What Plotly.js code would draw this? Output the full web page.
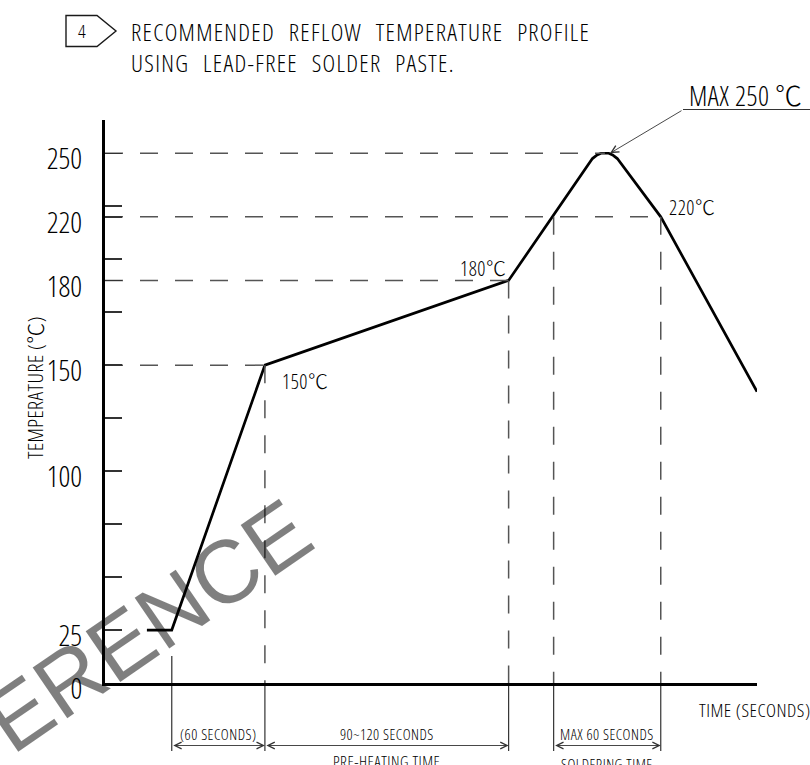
<!DOCTYPE html>
<html>
<head>
<meta charset="utf-8">
<script src="https://cdn.plot.ly/plotly-3.0.1.min.js"></script>
<style>
html,body{margin:0;padding:0;background:#fff;}
#chart{width:810px;height:765px;}
svg text{font-stretch:75%;letter-spacing:0.5px;}
.ytick text{letter-spacing:0;}
</style>
</head>
<body>
<div id="chart"></div>
<script>
// ---- data (time in s, temperature in drawing-axis units) ----
const profileTime = [27, 43, 103, 260, 314, 317, 319.5, 324.5, 327, 330, 358, 420];
const profileTemp = [25, 25, 150, 190, 247.5, 249.2, 250, 250, 249.2, 247.5, 220, 137.5];

const yTickVals = [0, 25, 50, 75, 100, 125, 150, 175, 190, 200, 220, 225, 250];
const yTickText = ['0', '25', '', '', '100', '', '150', '', '180', '', '220', '', '250'];

// horizontal reference levels and where they end
const refTemps = [150, 190, 220, 250];
const refEndTimes = [103, 260, 358, 322];

// phase boundary times and the level each vertical guide starts from
const phaseTimes = [43, 103, 260, 289, 358];
const phaseTopTemps = [25, 150, 190, 220, 220];

const titleLines = ['RECOMMENDED REFLOW TEMPERATURE PROFILE', 'USING LEAD-FREE SOLDER PASTE.'];
const pointLabels = ['150℃', '180℃', '220℃'];
const spanLabels = ['(60 SECONDS)', '90~120 SECONDS', 'MAX 60 SECONDS'];
const spanIndex = [[0, 1], [1, 2], [3, 4]];
const phaseNames = ['PRE-HEATING TIME', 'SOLDERING TIME'];

// ---- layout helpers (pixel -> paper) ----
const L = 105, T = 120, W = 652, H = 563;
const px = p => (p - L) / W;
const py = p => (T + H - p) / H;
const FONT = '"Open Sans", "Noto Sans CJK SC", sans-serif';
const INK = '#000';
const DASH = '#555';
const f = (size, w) => ({family: FONT, size: size, color: INK, weight: w || 350});
const spaced = s => `<span style="letter-spacing:1.3px;word-spacing:8px">${s}</span>`;

const traces = [];
traces.push({
  x: profileTime, y: profileTemp, mode: 'lines', type: 'scatter',
  line: {color: '#000', width: 2.7}, hoverinfo: 'skip', showlegend: false
});
refTemps.forEach((t, i) => {
  traces.push({
    x: [0, refEndTimes[i]], y: [t, t], mode: 'lines', type: 'scatter',
    line: {color: DASH, width: 1.5, dash: '18px,17px'}, hoverinfo: 'skip', showlegend: false
  });
});
phaseTimes.forEach((tm, i) => {
  traces.push({
    x: [tm, tm], y: [phaseTopTemps[i], 0], mode: 'lines', type: 'scatter',
    line: {color: DASH, width: 1.5, dash: i === 0 ? '0px,26px,40px' : '18px,17px'},
    hoverinfo: 'skip', showlegend: false
  });
});

const shapes = [];
// extension lines below the time axis
phaseTimes.forEach(tm => {
  shapes.push({type: 'line', xref: 'x', yref: 'paper', x0: tm, x1: tm, y0: py(686), y1: py(751),
    line: {color: '#333', width: 1.2}});
});
// leader line for MAX 250
shapes.push({type: 'line', xref: 'paper', yref: 'paper', x0: px(683), x1: px(815), y0: py(109.5), y1: py(109.5),
  line: {color: '#333', width: 1}});
// note tag "4>"
shapes.push({type: 'path', xref: 'paper', yref: 'paper',
  path: `M ${px(66)},${py(15.5)} L ${px(97)},${py(15.5)} L ${px(116)},${py(31)} L ${px(97)},${py(46.5)} L ${px(66)},${py(46.5)} Z`,
  line: {color: '#1a1a1a', width: 1.4}});

const ann = [];
const A = o => Object.assign({showarrow: false, xanchor: 'center', yanchor: 'middle'}, o);
// watermark
ann.push(A({xref: 'paper', yref: 'paper', x: px(74), y: py(676), textangle: -34.4,
  text: '<span style="letter-spacing:0px;font-stretch:100%">REFERENCE</span>',
  font: {family: '"Liberation Sans", Arial, sans-serif', size: 89, color: 'rgba(0,0,0,0.5)'}}));
// title
ann.push(A({xref: 'paper', yref: 'paper', x: px(81.5), y: py(31), text: '4', font: f(19)}));
ann.push(A({xref: 'paper', yref: 'paper', x: px(129), y: py(31), xanchor: 'left', text: spaced(titleLines[0]), font: f(24)}));
ann.push(A({xref: 'paper', yref: 'paper', x: px(129), y: py(62.5), xanchor: 'left', text: spaced(titleLines[1]), font: f(24)}));
// y-axis title
ann.push(A({xref: 'paper', yref: 'paper', x: px(35), y: py(388), text: 'TEMPERATURE (℃)', textangle: -90, font: f(21, 300)}));
// x-axis title
ann.push(A({xref: 'paper', yref: 'paper', x: px(697), y: py(709.5), xanchor: 'left', text: 'TIME (SECONDS)', font: f(19)}));
// point labels
ann.push(A({xref: 'x', yref: 'y', x: profileTime[2], y: profileTemp[2], xanchor: 'left', xshift: 15, yshift: -16,
  text: pointLabels[0], font: f(20, 300)}));
ann.push(A({xref: 'x', yref: 'y', x: profileTime[3], y: profileTemp[3], xanchor: 'right', xshift: -1, yshift: 12,
  text: pointLabels[1], font: f(20, 300)}));
ann.push(A({xref: 'x', yref: 'y', x: profileTime[10], y: profileTemp[10], xanchor: 'left', xshift: 6, yshift: 9,
  text: pointLabels[2], font: f(20, 300)}));
// MAX 250 leader arrow and text
ann.push({xref: 'x', yref: 'y', x: 325.3, y: 250, ax: 73, ay: -43.5, axref: 'pixel', ayref: 'pixel', text: '', showarrow: true,
  arrowhead: 5, arrowsize: 1.6, arrowwidth: 0.9, arrowcolor: '#333', standoff: 0});
ann.push(A({xref: 'paper', yref: 'paper', x: px(687), y: py(95), xanchor: 'left', text: 'MAX 250 ℃', font: f(27, 300)}));
// dimension arrows + labels
spanIndex.forEach((pr, i) => {
  const a = phaseTimes[pr[0]], b = phaseTimes[pr[1]];
  ann.push({xref: 'x', yref: 'paper', x: b, y: py(745.5), axref: 'x', ax: a, ayref: 'pixel', ay: 0, text: '', showarrow: true,
    arrowside: 'end+start', arrowhead: 5, startarrowhead: 5, arrowsize: 1.5, startarrowsize: 1.5, arrowwidth: 0.9,
    arrowcolor: '#333', standoff: 0, startstandoff: 0});
  ann.push(A({xref: 'x', yref: 'paper', x: (a + b) / 2, y: py(733.5), text: spanLabels[i], font: f(15)}));
});
ann.push(A({xref: 'x', yref: 'paper', x: (phaseTimes[1] + phaseTimes[2]) / 2, y: py(762), text: phaseNames[0], font: f(16)}));
ann.push(A({xref: 'x', yref: 'paper', x: (phaseTimes[3] + phaseTimes[4]) / 2, y: py(764), text: phaseNames[1], font: f(15)}));

const layout = {
  width: 810, height: 765,
  margin: {l: L, r: 810 - L - W, t: T, b: 765 - T - H, pad: 0},
  paper_bgcolor: '#fff', plot_bgcolor: '#fff',
  showlegend: false,
  xaxis: {range: [0, 420], showline: true, linewidth: 3, linecolor: '#000', showgrid: false, zeroline: false,
    showticklabels: false, ticks: '', fixedrange: true},
  yaxis: {range: [0, 265.7], showline: true, linewidth: 3, linecolor: '#000', showgrid: false, zeroline: false,
    tickmode: 'array', tickvals: yTickVals, ticktext: yTickText, ticks: 'inside', ticklen: 17, tickwidth: 1.5,
    tickcolor: '#333', tickfont: f(29), ticklabelshift: 6, ticklabelstandoff: 14,
    fixedrange: true},
  shapes: shapes,
  annotations: ann
};

Plotly.newPlot('chart', traces, layout, {displayModeBar: false, staticPlot: true});
</script>
</body>
</html>
